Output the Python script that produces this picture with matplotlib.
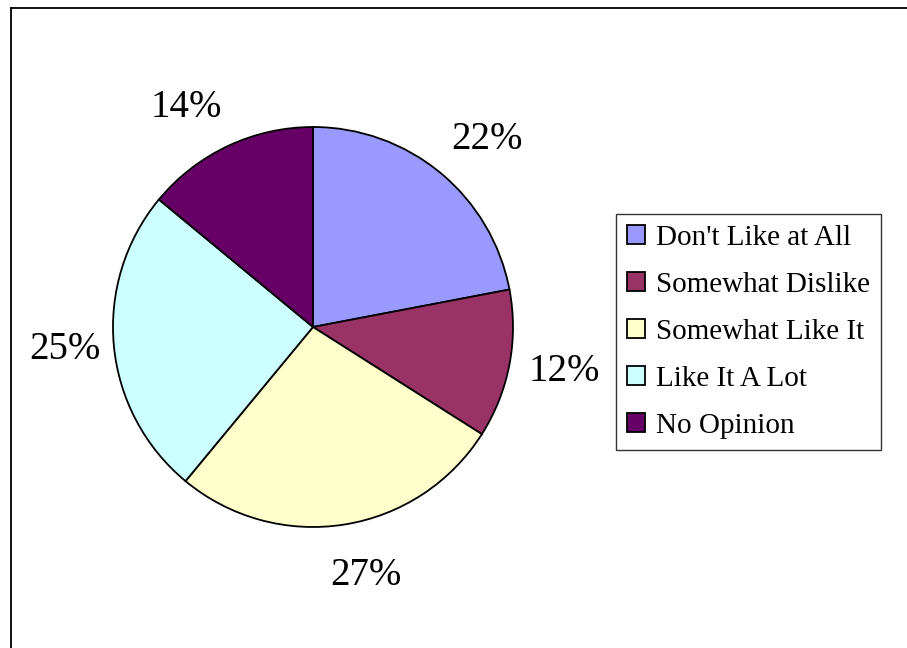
import matplotlib.pyplot as plt
from matplotlib.lines import Line2D

labels = ["Don't Like at All", "Somewhat Dislike", "Somewhat Like It", "Like It A Lot", "No Opinion"]
values = [22, 12, 27, 25, 14]
colors = ["#9999FF", "#993366", "#FFFFCC", "#CCFFFF", "#660066"]

plt.rcParams['font.family'] = ['Liberation Serif', 'DejaVu Serif']

W, H = 907, 648
fig = plt.figure(figsize=(W / 100, H / 100), dpi=100)

# pie centred at (313, 327) px, radius 200 px
ax = fig.add_axes([113 / W, (H - 527) / H, 400 / W, 400 / H])
wedges, _, autotexts = ax.pie(values, colors=colors, startangle=90, counterclock=False,
                              autopct='%d%%', pctdistance=1.27, radius=1,
                              wedgeprops=dict(edgecolor='black', linewidth=1.3))

# small nudges so the labels sit like Excel places them (in radius units)
nudges = [(0.06, -0.04), (0.01, 0.015), (0.065, 0.01), (0.025, 0.005), (-0.09, -0.05)]
for t, (dx, dy) in zip(autotexts, nudges):
    x, y = t.get_position()
    t.set_position((x + dx, y + dy))
    t.set_fontsize(28)
    t.set_color('black')
ax.set_xlim(-1, 1)
ax.set_ylim(-1, 1)
ax.set_aspect('equal')

leg = fig.legend(wedges, labels, loc='upper left',
                 bbox_to_anchor=(616 / W, 1 - 214 / H),
                 fontsize=21, frameon=True, fancybox=False,
                 edgecolor='black', handlelength=0.62, handleheight=0.62,
                 handletextpad=0.38, labelspacing=0.72, borderpad=0.38,
                 borderaxespad=0)
leg.get_frame().set_linewidth(1.0)

# outer chart border (only top and left visible)
fig.add_artist(Line2D([10.5 / W, 10.5 / W], [0, 1 - 8 / H], color='black', lw=1.3))
fig.add_artist(Line2D([10.5 / W, 1], [1 - 8 / H, 1 - 8 / H], color='black', lw=1.3))

fig.savefig('out.png', dpi=100)
